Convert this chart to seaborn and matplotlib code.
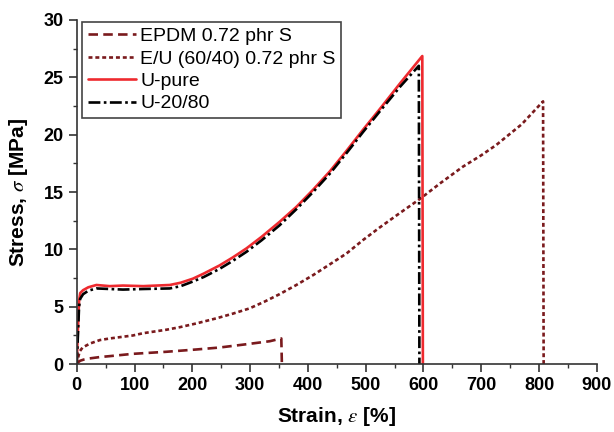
import matplotlib
matplotlib.use('Agg')
import matplotlib.pyplot as plt
import numpy as np
import pandas as pd
import seaborn as sns
from matplotlib.ticker import MultipleLocator

# strain [%] / stress [MPa]
epdm_x = [0, 2, 6, 12, 22, 40, 57, 97, 155, 207, 247, 294, 334, 354, 355]
epdm_y = [0, 0.15, 0.3, 0.4, 0.5, 0.62, 0.7, 0.9, 1.08, 1.28, 1.45, 1.74,
          2.0, 2.24, 0]

eu_x = [0, 3, 5, 10, 23, 40, 57, 97, 115, 155, 178, 207, 242, 270, 299, 325,
        351, 380, 409, 438, 467, 495, 524, 560, 594, 630, 668, 700, 726, 770,
        807, 808]
eu_y = [0, 0.7, 1.1, 1.45, 1.8, 2.1, 2.24, 2.5, 2.7, 3.0, 3.22, 3.55, 4.0,
        4.4, 4.86, 5.45, 6.1, 6.9, 7.76, 8.7, 9.65, 10.8, 11.9, 13.2, 14.4,
        15.8, 17.2, 18.2, 19.1, 20.9, 22.9, 0]

upure_x = [0, 2, 4, 6, 11, 20, 34, 57, 80, 115, 161, 180, 201, 220, 247, 270,
           294, 320, 351, 380, 409, 438, 467, 495, 524, 560, 598, 599]
upure_y = [0, 3.0, 5.5, 6.2, 6.45, 6.7, 6.9, 6.8, 6.85, 6.8, 6.9, 7.1, 7.45,
           7.9, 8.6, 9.3, 10.1, 11.1, 12.4, 13.7, 15.2, 16.8, 18.6, 20.4,
           22.2, 24.5, 26.85, 0]

u2080_x = [0, 2, 4, 6, 11, 20, 34, 57, 80, 115, 161, 180, 201, 220, 247, 270,
           294, 320, 351, 380, 409, 438, 467, 495, 524, 560, 592, 593]
u2080_y = [0, 2.5, 5.0, 5.7, 6.1, 6.4, 6.6, 6.55, 6.5, 6.55, 6.6, 6.8, 7.2,
           7.6, 8.3, 9.0, 9.8, 10.8, 12.1, 13.5, 15.0, 16.6, 18.4, 20.2,
           22.0, 24.2, 26.0, 0]

labels = ['EPDM 0.72 phr S', 'E/U (60/40) 0.72 phr S', 'U-pure', 'U-20/80']

sns.set_style('ticks')
plt.rcParams['font.family'] = ['Liberation Sans', 'DejaVu Sans']
plt.rcParams['mathtext.fontset'] = 'stix'
plt.rcParams['text.color'] = 'black'
plt.rcParams['axes.labelcolor'] = 'black'

fig = plt.figure(figsize=(6.14, 4.32), dpi=100)
ax = fig.add_axes([0.125, 0.157, 0.847, 0.797])

dark = '#7a1a1d'
series = [
    (epdm_x, epdm_y, dark, (0, (3.6, 2.0))),
    (eu_x, eu_y, dark, (0, (1.5, 1.1))),
    (upure_x, upure_y, '#ee2a2f', '-'),
    (u2080_x, u2080_y, 'black', (0, (4.5, 1.3, 1.0, 1.3))),
]
for (xs, ys, c, ls), lab in zip(series, labels):
    df = pd.DataFrame({'Strain': xs, 'Stress': ys})
    sns.lineplot(data=df, x='Strain', y='Stress', sort=False, estimator=None,
                 color=c, linestyle=ls, linewidth=1.9, label=lab, ax=ax)

ax.set_xlim(0, 900)
ax.set_ylim(0, 30)
ax.xaxis.set_major_locator(MultipleLocator(100))
ax.xaxis.set_minor_locator(MultipleLocator(50))
ax.yaxis.set_major_locator(MultipleLocator(5))
ax.yaxis.set_minor_locator(MultipleLocator(2.5))
ax.tick_params(which='major', length=6, width=1.2, color='#333333',
               labelsize=13, labelcolor='black')
ax.tick_params(which='minor', length=3, width=1.0, color='#333333')
for t in ax.get_xticklabels() + ax.get_yticklabels():
    t.set_fontweight('bold')

for s in ['top', 'right']:
    ax.spines[s].set_visible(False)
for s in ['left', 'bottom']:
    ax.spines[s].set_linewidth(1.2)
    ax.spines[s].set_color('#333333')

ax.set_xlabel(r'Strain, $\varepsilon$ [%]', fontsize=15, fontweight='bold',
              labelpad=8, color='black')
ax.set_ylabel(r'Stress, $\sigma$ [MPa]', fontsize=15, fontweight='bold',
              labelpad=10, color='black')

leg = ax.legend(loc='upper left', bbox_to_anchor=(0.01, 0.995),
                borderaxespad=0, fontsize=14, handlelength=2.5,
                handletextpad=0.2, labelspacing=0.25, borderpad=0.3,
                fancybox=False, framealpha=1)
leg.get_frame().set_edgecolor('#444444')
leg.get_frame().set_linewidth(1.2)

plt.savefig('out.png', dpi=100)
